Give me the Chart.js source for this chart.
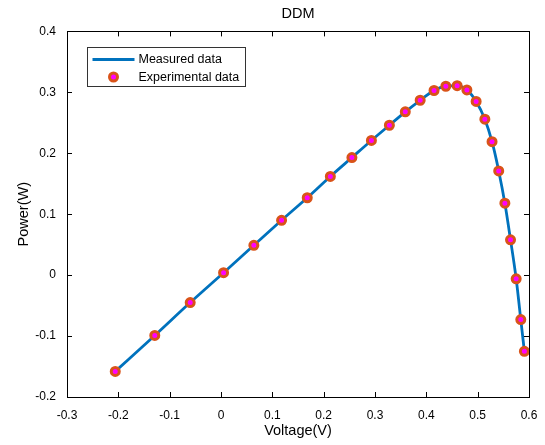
<!DOCTYPE html>
<html>
<head>
<meta charset="utf-8">
<script src="https://cdn.jsdelivr.net/npm/chart.js@4"></script>
<style>
  html, body { margin: 0; padding: 0; background: #fff; }
  #wrap { width: 545px; height: 445px; }
</style>
</head>
<body>
<div id="wrap"><canvas id="ddmChart" width="545" height="445"></canvas></div>
<script>
// values
var voltage = [-0.206, -0.129, -0.060, 0.005, 0.064, 0.118, 0.168, 0.213, 0.255, 0.293,
               0.328, 0.359, 0.388, 0.415, 0.438, 0.460, 0.479, 0.497, 0.514, 0.528,
               0.541, 0.553, 0.564, 0.575, 0.584, 0.591];
var power = [-0.158, -0.099, -0.045, 0.004, 0.049, 0.090, 0.127, 0.162, 0.193, 0.221,
             0.246, 0.268, 0.287, 0.303, 0.310, 0.311, 0.304, 0.285, 0.256, 0.219,
             0.171, 0.118, 0.058, -0.006, -0.073, -0.125];
var xTicks = [-0.3, -0.2, -0.1, 0, 0.1, 0.2, 0.3, 0.4, 0.5, 0.6];
var yTicks = [-0.2, -0.1, 0, 0.1, 0.2, 0.3, 0.4];

var points = voltage.map(function(v, i) { return { x: v, y: power[i] }; });

var font = "'Liberation Sans', Arial, sans-serif";

// box with inward ticks and legend inside the plot, like matlab
var boxPlugin = {
    id: 'box',
    afterDraw: function(chart) {
        var ctx = chart.ctx;
        var a = chart.chartArea;
        var xs = chart.scales.x, ys = chart.scales.y;
        ctx.save();
        ctx.strokeStyle = '#000';
        ctx.lineWidth = 1;
        ctx.strokeRect(Math.round(a.left) + 0.5, Math.round(a.top) + 0.5,
                       Math.round(a.right - a.left), Math.round(a.bottom - a.top));
        ctx.beginPath();
        xTicks.forEach(function(t) {
            var px = Math.round(xs.getPixelForValue(t)) + 0.5;
            ctx.moveTo(px, a.bottom); ctx.lineTo(px, a.bottom - 5);
            ctx.moveTo(px, a.top); ctx.lineTo(px, a.top + 5);
        });
        yTicks.forEach(function(t) {
            var py = Math.round(ys.getPixelForValue(t)) + 0.5;
            ctx.moveTo(a.left, py); ctx.lineTo(a.left + 5, py);
            ctx.moveTo(a.right, py); ctx.lineTo(a.right - 5, py);
        });
        ctx.stroke();

        // legend
        var ds = chart.data.datasets;
        var lx = Math.round(a.left) + 20.5, ly = Math.round(a.top) + 16.5;
        ctx.fillStyle = '#fff';
        ctx.fillRect(lx, ly, 158, 39);
        ctx.strokeStyle = '#333';
        ctx.strokeRect(lx, ly, 158, 39);
        ctx.strokeStyle = ds[0].borderColor;
        ctx.lineWidth = ds[0].borderWidth;
        ctx.beginPath();
        ctx.moveTo(lx + 5, ly + 12); ctx.lineTo(lx + 47, ly + 12);
        ctx.stroke();
        ctx.beginPath();
        ctx.arc(lx + 26, ly + 29.5, ds[1].pointRadius, 0, Math.PI * 2);
        ctx.fillStyle = ds[1].pointBackgroundColor;
        ctx.fill();
        ctx.lineWidth = ds[1].pointBorderWidth;
        ctx.strokeStyle = ds[1].pointBorderColor;
        ctx.stroke();
        ctx.fillStyle = '#000';
        ctx.font = '12.5px ' + font;
        ctx.textBaseline = 'middle';
        ctx.fillText(ds[0].label, lx + 51, ly + 12.5);
        ctx.fillText(ds[1].label, lx + 51, ly + 30);
        ctx.restore();
    }
};

var ctx = document.getElementById('ddmChart').getContext('2d');
var ddmChart = new Chart(ctx, {
    type: 'scatter',
    data: {
        datasets: [{
            label: 'Measured data',
            data: points,
            showLine: true,
            borderColor: '#0072BD',
            borderWidth: 2.8,
            pointRadius: 0,
            cubicInterpolationMode: 'monotone',
            order: 2
        }, {
            label: 'Experimental data',
            data: points,
            showLine: false,
            pointRadius: 4,
            pointBackgroundColor: '#FF00FF',
            pointBorderColor: '#D95319',
            pointBorderWidth: 3,
            order: 1
        }]
    },
    options: {
        responsive: false,
        animation: false,
        layout: { padding: { left: 0, right: 16, top: 0, bottom: 0 } },
        scales: {
            x: {
                type: 'linear',
                min: -0.3,
                max: 0.6,
                afterBuildTicks: function(scale) {
                    scale.ticks = xTicks.map(function(v) { return { value: v }; });
                },
                afterFit: function(scale) { scale.height = 48; },
                grid: { display: false },
                border: { display: false },
                ticks: {
                    color: '#000',
                    padding: 3,
                    maxRotation: 0,
                    font: { size: 12, family: font },
                    callback: function(v) { return String(Math.round(v * 10) / 10); }
                },
                title: {
                    display: true,
                    text: 'Voltage(V)',
                    color: '#000',
                    font: { size: 14.5, family: font },
                    padding: { top: 0, bottom: 5 }
                }
            },
            y: {
                type: 'linear',
                min: -0.2,
                max: 0.4,
                afterBuildTicks: function(scale) {
                    scale.ticks = yTicks.map(function(v) { return { value: v }; });
                },
                afterFit: function(scale) { scale.width = 67; },
                grid: { display: false },
                border: { display: false },
                ticks: {
                    color: '#000',
                    padding: 3,
                    font: { size: 12, family: font },
                    callback: function(v) { return String(Math.round(v * 10) / 10); }
                },
                title: {
                    display: true,
                    text: 'Power(W)',
                    color: '#000',
                    font: { size: 14.5, family: font },
                    padding: { top: 15, bottom: 0 }
                }
            }
        },
        plugins: {
            legend: { display: false },
            tooltip: { enabled: false },
            title: {
                display: true,
                text: 'DDM',
                fullSize: false,
                color: '#000',
                font: { size: 14.5, weight: 'normal', family: font },
                padding: { top: 5, bottom: 9 }
            }
        }
    },
    plugins: [boxPlugin]
});
</script>
</body>
</html>
